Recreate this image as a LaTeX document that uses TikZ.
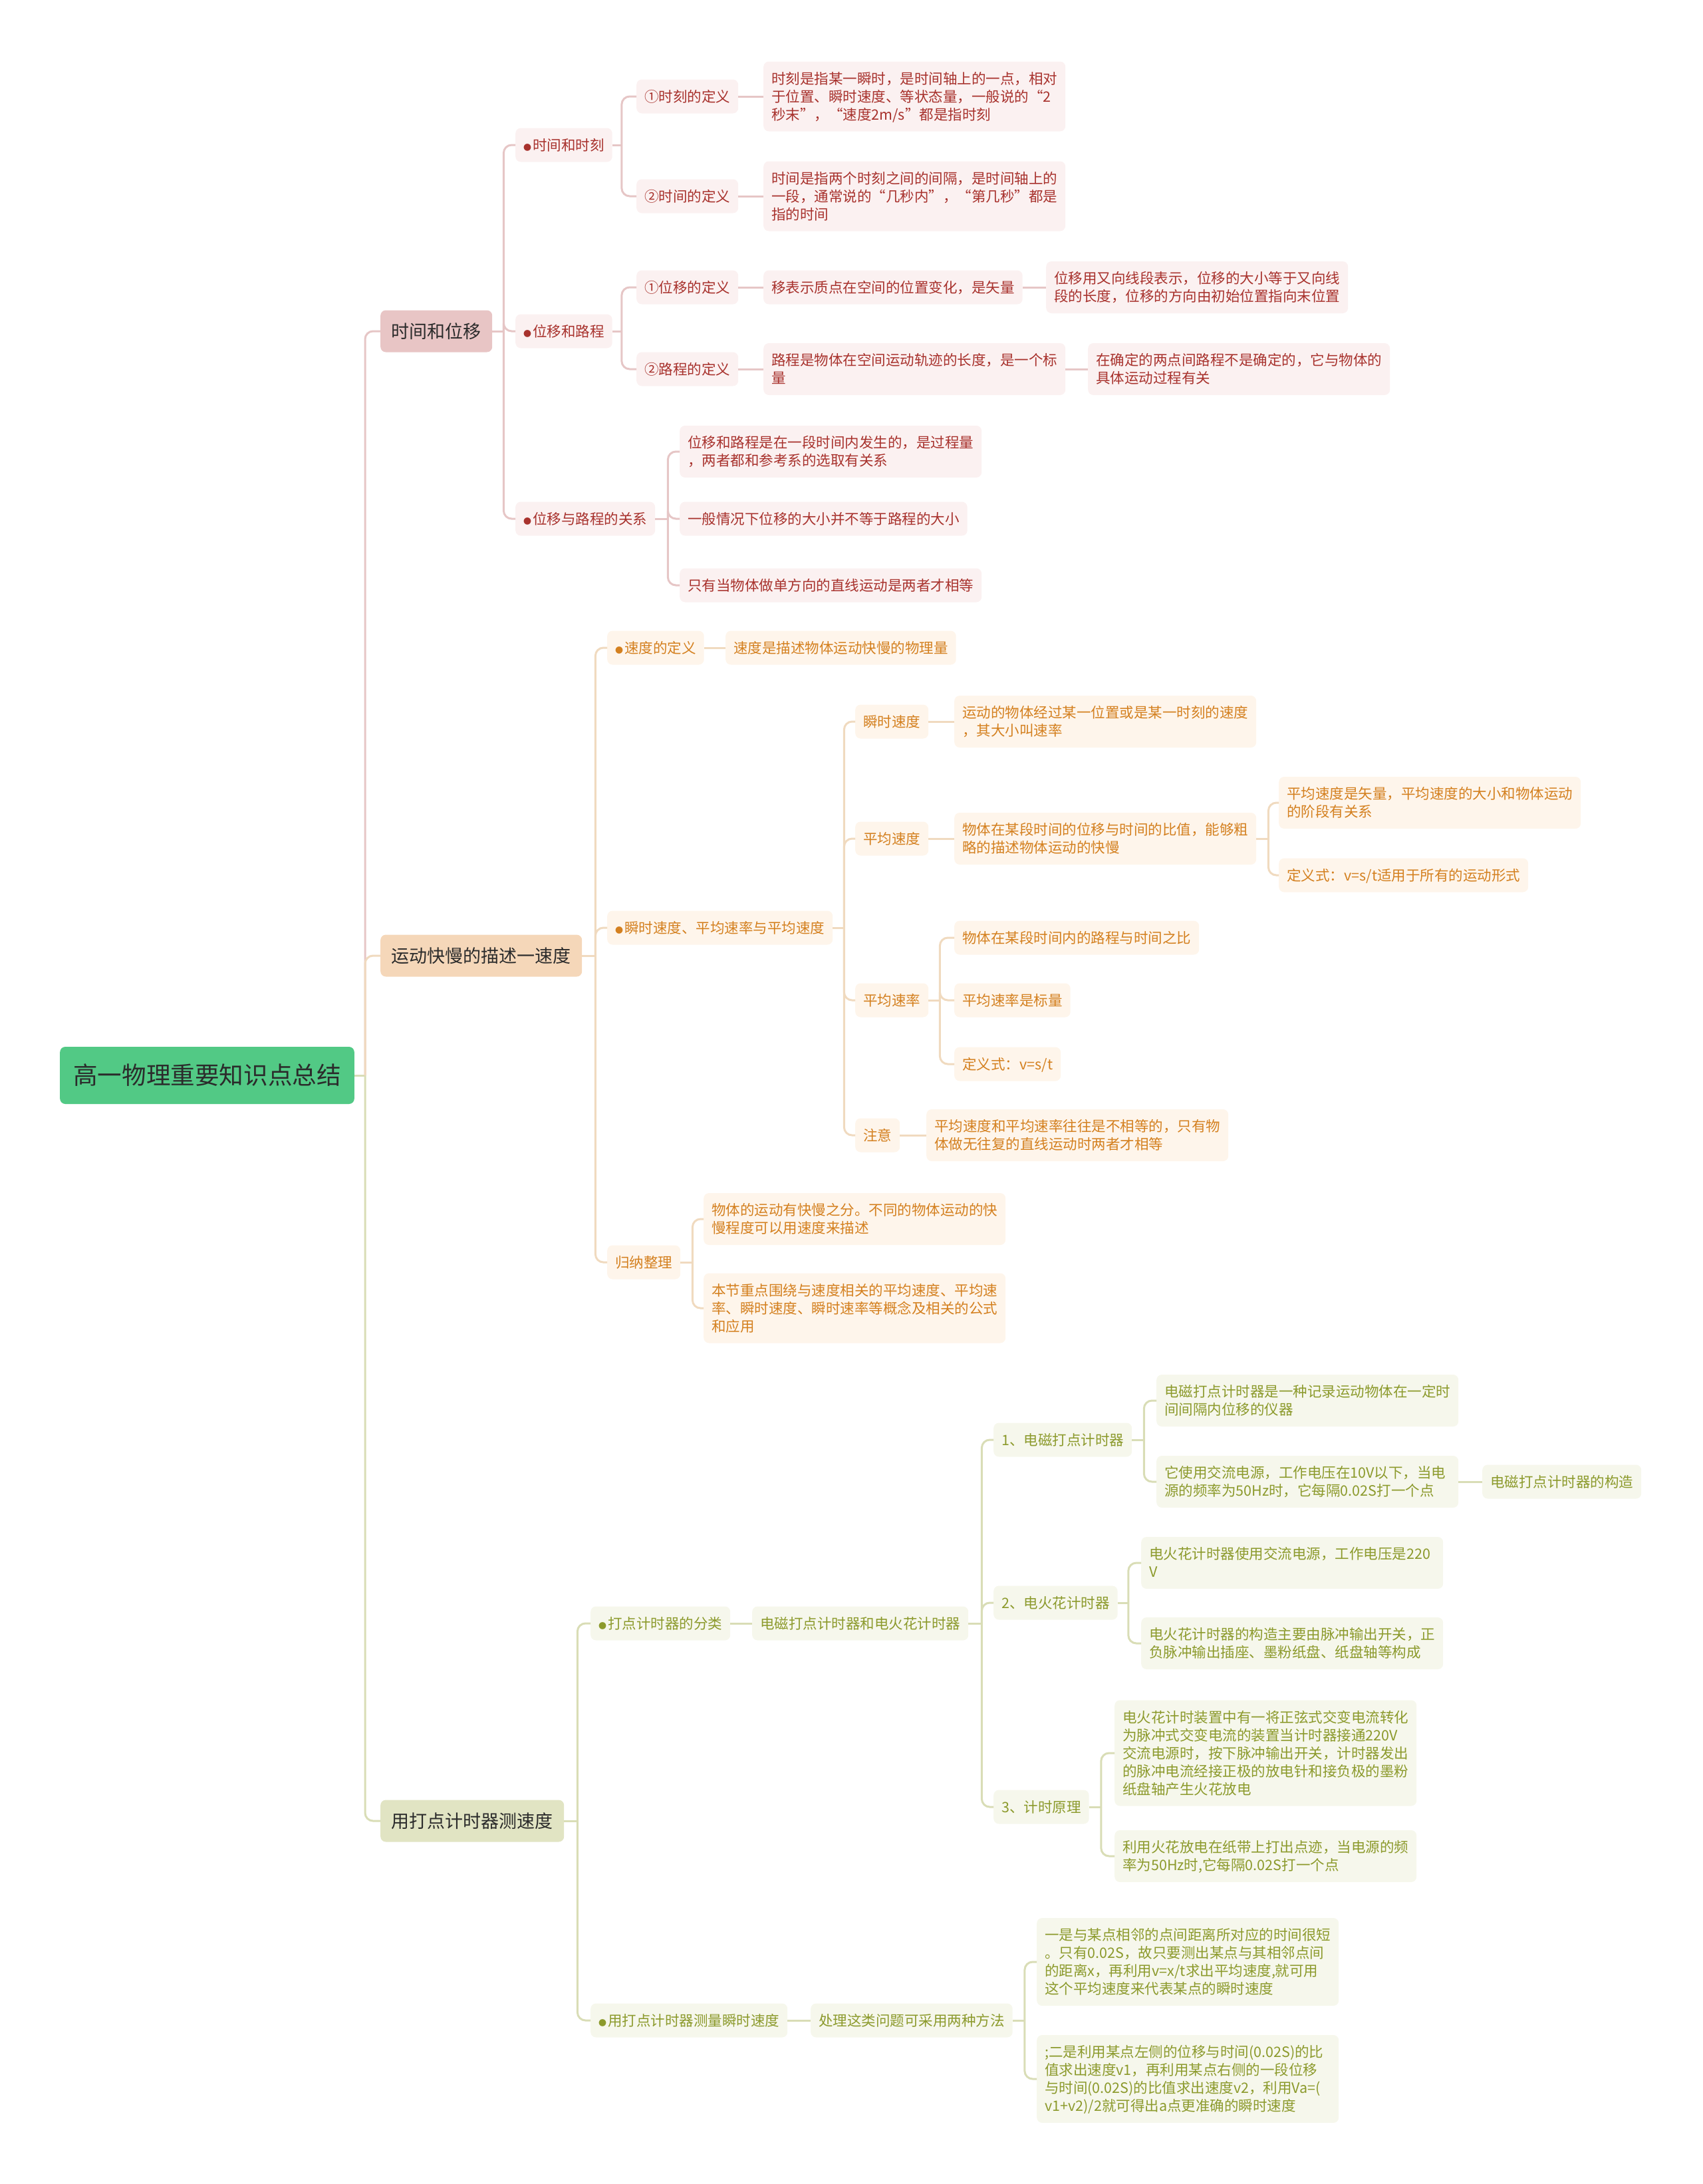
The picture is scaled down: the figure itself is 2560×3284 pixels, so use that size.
\documentclass[tikz,border=0pt]{standalone}
\usepackage{fontspec}
\setmainfont{Noto Sans CJK SC}
\usetikzlibrary{calc}

\definecolor{rootgreen}{HTML}{52C985}
\definecolor{darktext}{HTML}{2B2B2B}
\definecolor{redmain}{HTML}{E8C5C5}
\definecolor{redsub}{HTML}{FBF1F1}
\definecolor{redtext}{HTML}{A8322D}
\definecolor{redline}{HTML}{E6C6C6}
\definecolor{orgmain}{HTML}{F5D7B9}
\definecolor{orgsub}{HTML}{FEF5EB}
\definecolor{orgtext}{HTML}{D4801F}
\definecolor{orgline}{HTML}{F0DABF}
\definecolor{olvmain}{HTML}{E1E4C3}
\definecolor{olvsub}{HTML}{F6F7EC}
\definecolor{olvtext}{HTML}{8C9A2C}
\definecolor{olvline}{HTML}{D9DDB6}

\newcommand{\dotmark}{{\fontsize{12}{12}\selectfont ●}\kern2pt}
\newcommand{\cjkstrut}{\rule[-0.2\baselineskip]{0pt}{\baselineskip}}

\tikzset{
  box/.style={anchor=west, rounded corners=8pt, inner xsep=12pt, inner ysep=12pt,
    font=\fontsize{21.5}{27}\selectfont, execute at begin node=\cjkstrut, execute at end node=\cjkstrut},
  wide/.style={text width=430pt, align=left},
  rootbox/.style={box, fill=rootgreen, text=darktext, inner xsep=20pt, inner ysep=20pt,
    font=\fontsize{36.6}{46}\selectfont},
  mainbox/.style={box, text=darktext, inner xsep=16.5pt, inner ysep=14.5pt,
    font=\fontsize{27}{34}\selectfont},
  redbox/.style={box, fill=redsub, text=redtext},
  orgbox/.style={box, fill=orgsub, text=orgtext},
  olvbox/.style={box, fill=olvsub, text=olvtext},
  link/.style={line width=3pt, rounded corners=12pt},
}

\begin{document}
\begin{tikzpicture}[x=1pt, y=-1pt]
\useasboundingbox (0,0) rectangle (2560,3284);
% root and main branches
\node[rootbox] (root) at (90,1617) {高一物理重要知识点总结};
\node[mainbox, fill=redmain] (tw) at (572,498) {时间和位移};
\node[mainbox, fill=orgmain] (sd) at (572,1437) {运动快慢的描述一速度};
\node[mainbox, fill=olvmain] (dj) at (572,2738) {用打点计时器测速度};

% time and displacement
\node[redbox] (tw1) at (775,218) {\dotmark 时间和时刻};
\node[redbox] (tw2) at (775,498) {\dotmark 位移和路程};
\node[redbox] (tw3) at (775,780) {\dotmark 位移与路程的关系};
\node[redbox] (tw1a) at (957,145) {①时刻的定义};
\node[redbox] (tw1b) at (957,295) {②时间的定义};
\node[redbox, wide] (tw1a1) at (1148,145) {时刻是指某一瞬时，是时间轴上的一点，相对\\于位置、瞬时速度、等状态量，一般说的“2\\秒末”，“速度2m/s”都是指时刻};
\node[redbox, wide] (tw1b1) at (1148,295) {时间是指两个时刻之间的间隔，是时间轴上的\\一段，通常说的“几秒内”，“第几秒”都是\\指的时间};
\node[redbox] (tw2a) at (957,432) {①位移的定义};
\node[redbox] (tw2b) at (957,555) {②路程的定义};
\node[redbox] (tw2a1) at (1148,432) {移表示质点在空间的位置变化，是矢量};
\node[redbox, wide] (tw2a2) at (1573,432) {位移用又向线段表示，位移的大小等于又向线\\段的长度，位移的方向由初始位置指向末位置};
\node[redbox, wide] (tw2b1) at (1148,555) {路程是物体在空间运动轨迹的长度，是一个标\\量};
\node[redbox, wide] (tw2b2) at (1636,555) {在确定的两点间路程不是确定的，它与物体的\\具体运动过程有关};
\node[redbox, wide] (tw3a) at (1022,679) {位移和路程是在一段时间内发生的，是过程量\\，两者都和参考系的选取有关系};
\node[redbox] (tw3b) at (1022,780) {一般情况下位移的大小并不等于路程的大小};
\node[redbox] (tw3c) at (1022,880) {只有当物体做单方向的直线运动是两者才相等};

% speed
\node[orgbox] (sd1) at (913,974) {\dotmark 速度的定义};
\node[orgbox] (sd1a) at (1091,974) {速度是描述物体运动快慢的物理量};
\node[orgbox] (sd2) at (913,1395) {\dotmark 瞬时速度、平均速率与平均速度};
\node[orgbox] (sd2a) at (1286,1085) {瞬时速度};
\node[orgbox, wide] (sd2a1) at (1435,1085) {运动的物体经过某一位置或是某一时刻的速度\\，其大小叫速率};
\node[orgbox] (sd2b) at (1286,1261) {平均速度};
\node[orgbox, wide] (sd2b1) at (1435,1261) {物体在某段时间的位移与时间的比值，能够粗\\略的描述物体运动的快慢};
\node[orgbox, wide] (sd2b1a) at (1923,1207) {平均速度是矢量，平均速度的大小和物体运动\\的阶段有关系};
\node[orgbox] (sd2b1b) at (1923,1316) {定义式：v=s/t适用于所有的运动形式};
\node[orgbox] (sd2c) at (1286,1504) {平均速率};
\node[orgbox] (sd2c1) at (1435,1410) {物体在某段时间内的路程与时间之比};
\node[orgbox] (sd2c2) at (1435,1504) {平均速率是标量};
\node[orgbox] (sd2c3) at (1435,1600) {定义式：v=s/t};
\node[orgbox] (sd2d) at (1286,1707) {注意};
\node[orgbox, wide] (sd2d1) at (1393,1707) {平均速度和平均速率往往是不相等的，只有物\\体做无往复的直线运动时两者才相等};
\node[orgbox] (sd3) at (913,1898) {归纳整理};
\node[orgbox, wide] (sd3a) at (1058,1833) {物体的运动有快慢之分。不同的物体运动的快\\慢程度可以用速度来描述};
\node[orgbox, wide] (sd3b) at (1058,1967) {本节重点围绕与速度相关的平均速度、平均速\\率、瞬时速度、瞬时速率等概念及相关的公式\\和应用};

% timers
\node[olvbox] (dj1) at (888,2441) {\dotmark 打点计时器的分类};
\node[olvbox] (dj1a) at (1131,2441) {电磁打点计时器和电火花计时器};
\node[olvbox] (dj1a1) at (1494,2165) {1、电磁打点计时器};
\node[olvbox, wide] (dj1a1a) at (1739,2106) {电磁打点计时器是一种记录运动物体在一定时\\间间隔内位移的仪器};
\node[olvbox, wide] (dj1a1b) at (1739,2228) {它使用交流电源，工作电压在10V以下，当电\\源的频率为50Hz时，它每隔0.02S打一个点};
\node[olvbox] (dj1a1b1) at (2229,2228) {电磁打点计时器的构造};
\node[olvbox] (dj1a2) at (1494,2410) {2、电火花计时器};
\node[olvbox, wide] (dj1a2a) at (1716,2350) {电火花计时器使用交流电源，工作电压是220\\V};
\node[olvbox, wide] (dj1a2b) at (1716,2471) {电火花计时器的构造主要由脉冲输出开关，正\\负脉冲输出插座、墨粉纸盘、纸盘轴等构成};
\node[olvbox] (dj1a3) at (1494,2717) {3、计时原理};
\node[olvbox, wide] (dj1a3a) at (1676,2636) {电火花计时装置中有一将正弦式交变电流转化\\为脉冲式交变电流的装置当计时器接通220V\\交流电源时，按下脉冲输出开关，计时器发出\\的脉冲电流经接正极的放电针和接负极的墨粉\\纸盘轴产生火花放电};
\node[olvbox, wide] (dj1a3b) at (1676,2791) {利用火花放电在纸带上打出点迹，当电源的频\\率为50Hz时,它每隔0.02S打一个点};
\node[olvbox] (dj2) at (888,3038) {\dotmark 用打点计时器测量瞬时速度};
\node[olvbox] (dj2a) at (1219,3038) {处理这类问题可采用两种方法};
\node[olvbox, wide] (dj2a1) at (1559,2950) {一是与某点相邻的点间距离所对应的时间很短\\。只有0.02S，故只要测出某点与其相邻点间\\的距离x，再利用v=x/t求出平均速度,就可用\\这个平均速度来代表某点的瞬时速度};
\node[olvbox, wide] (dj2a2) at (1559,3126) {;二是利用某点左侧的位移与时间(0.02S)的比\\值求出速度v1，再利用某点右侧的一段位移\\与时间(0.02S)的比值求出速度v2，利用Va=(\\v1+v2)/2就可得出a点更准确的瞬时速度};

% connectors from the root
\coordinate (root-b) at ($(root.east)+(16,0)$);
\draw[link, olvline] (root.east) -- (root-b);
\draw[link, redline] (root-b) |- (tw.west);
\draw[link, orgline] (root-b) |- (sd.west);
\draw[link, olvline] (root-b) |- (dj.west);

% connectors, time and displacement
\coordinate (tw-b) at ($(tw.east)+(17,0)$);
\draw[link, redline] (tw.east) -- (tw-b);
\foreach \c in {tw1,tw2,tw3} \draw[link, redline] (tw-b) |- (\c.west);
\coordinate (tw1-b) at ($(tw1.east)+(14,0)$);
\draw[link, redline] (tw1.east) -- (tw1-b);
\foreach \c in {tw1a,tw1b} \draw[link, redline] (tw1-b) |- (\c.west);
\coordinate (tw2-b) at ($(tw2.east)+(14,0)$);
\draw[link, redline] (tw2.east) -- (tw2-b);
\foreach \c in {tw2a,tw2b} \draw[link, redline] (tw2-b) |- (\c.west);
\coordinate (tw3-b) at ($(tw3.east)+(19,0)$);
\draw[link, redline] (tw3.east) -- (tw3-b);
\foreach \c in {tw3a,tw3b,tw3c} \draw[link, redline] (tw3-b) |- (\c.west);
\draw[link, redline] (tw1a.east) -- (tw1a1.west);
\draw[link, redline] (tw1b.east) -- (tw1b1.west);
\draw[link, redline] (tw2a.east) -- (tw2a1.west);
\draw[link, redline] (tw2a1.east) -- (tw2a2.west);
\draw[link, redline] (tw2b.east) -- (tw2b1.west);
\draw[link, redline] (tw2b1.east) -- (tw2b2.west);

% connectors, speed
\coordinate (sd-b) at ($(sd.east)+(20,0)$);
\draw[link, orgline] (sd.east) -- (sd-b);
\foreach \c in {sd1,sd2,sd3} \draw[link, orgline] (sd-b) |- (\c.west);
\draw[link, orgline] (sd1.east) -- (sd1a.west);
\coordinate (sd2-b) at ($(sd2.east)+(17,0)$);
\draw[link, orgline] (sd2.east) -- (sd2-b);
\foreach \c in {sd2a,sd2b,sd2c,sd2d} \draw[link, orgline] (sd2-b) |- (\c.west);
\draw[link, orgline] (sd2a.east) -- (sd2a1.west);
\draw[link, orgline] (sd2b.east) -- (sd2b1.west);
\coordinate (sd2b1-b) at ($(sd2b1.east)+(18,0)$);
\draw[link, orgline] (sd2b1.east) -- (sd2b1-b);
\foreach \c in {sd2b1a,sd2b1b} \draw[link, orgline] (sd2b1-b) |- (\c.west);
\coordinate (sd2c-b) at ($(sd2c.east)+(17,0)$);
\draw[link, orgline] (sd2c.east) -- (sd2c-b);
\foreach \c in {sd2c1,sd2c2,sd2c3} \draw[link, orgline] (sd2c-b) |- (\c.west);
\draw[link, orgline] (sd2d.east) -- (sd2d1.west);
\coordinate (sd3-b) at ($(sd3.east)+(18,0)$);
\draw[link, orgline] (sd3.east) -- (sd3-b);
\foreach \c in {sd3a,sd3b} \draw[link, orgline] (sd3-b) |- (\c.west);

% connectors, timers
\coordinate (dj-b) at ($(dj.east)+(20,0)$);
\draw[link, olvline] (dj.east) -- (dj-b);
\foreach \c in {dj1,dj2} \draw[link, olvline] (dj-b) |- (\c.west);
\draw[link, olvline] (dj1.east) -- (dj1a.west);
\coordinate (dj1a-b) at ($(dj1a.east)+(20,0)$);
\draw[link, olvline] (dj1a.east) -- (dj1a-b);
\foreach \c in {dj1a1,dj1a2,dj1a3} \draw[link, olvline] (dj1a-b) |- (\c.west);
\coordinate (dj1a1-b) at ($(dj1a1.east)+(18,0)$);
\draw[link, olvline] (dj1a1.east) -- (dj1a1-b);
\foreach \c in {dj1a1a,dj1a1b} \draw[link, olvline] (dj1a1-b) |- (\c.west);
\draw[link, olvline] (dj1a1b.east) -- (dj1a1b1.west);
\coordinate (dj1a2-b) at ($(dj1a2.east)+(16,0)$);
\draw[link, olvline] (dj1a2.east) -- (dj1a2-b);
\foreach \c in {dj1a2a,dj1a2b} \draw[link, olvline] (dj1a2-b) |- (\c.west);
\coordinate (dj1a3-b) at ($(dj1a3.east)+(18,0)$);
\draw[link, olvline] (dj1a3.east) -- (dj1a3-b);
\foreach \c in {dj1a3a,dj1a3b} \draw[link, olvline] (dj1a3-b) |- (\c.west);
\draw[link, olvline] (dj2.east) -- (dj2a.west);
\coordinate (dj2a-b) at ($(dj2a.east)+(18,0)$);
\draw[link, olvline] (dj2a.east) -- (dj2a-b);
\foreach \c in {dj2a1,dj2a2} \draw[link, olvline] (dj2a-b) |- (\c.west);
\end{tikzpicture}
\end{document}
